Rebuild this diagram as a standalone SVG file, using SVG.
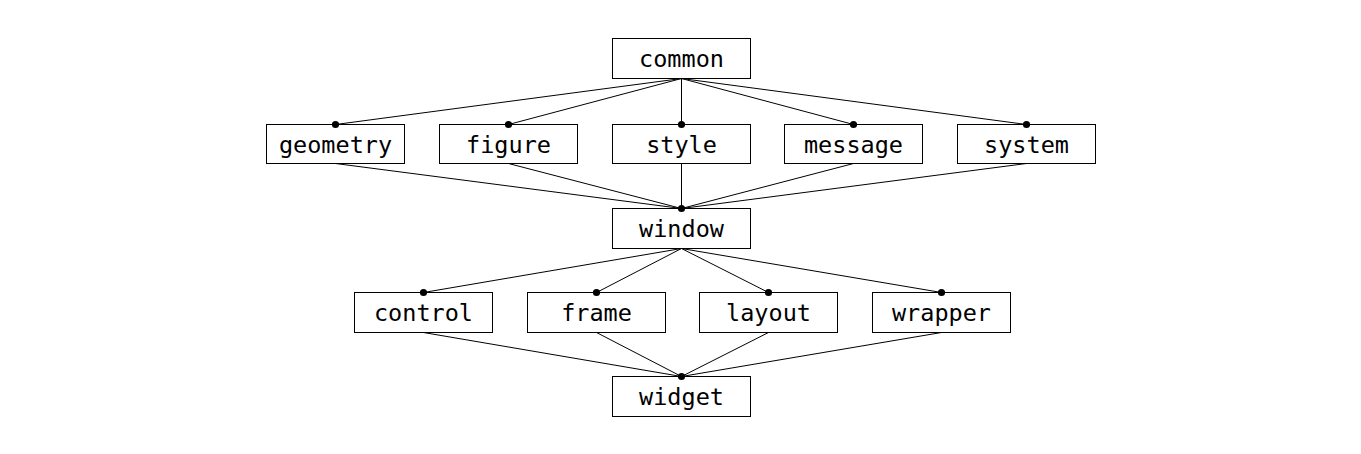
<svg xmlns="http://www.w3.org/2000/svg" width="1361" height="454" viewBox="0 0 1361 454">
<style>
.box{fill:#fff;stroke:#000;stroke-width:1}
.lbl{font-family:"DejaVu Sans Mono",monospace;font-size:23.5px;fill:#000;text-anchor:middle}
.edge{stroke:#000;stroke-width:1;fill:none}
.dot{fill:#000}
</style>
<rect width="1361" height="454" fill="#fff"/>
<g id="connectors">
<path class="edge" d="M681.5,78.5L335.5,124.5M681.5,78.5L508.5,124.5M681.5,78.5L681.5,124.5M681.5,78.5L853.5,124.5M681.5,78.5L1026.5,124.5"/>
<path class="edge" d="M335.5,163.5L681.5,208.5M508.5,163.5L681.5,208.5M681.5,163.5L681.5,208.5M853.5,163.5L681.5,208.5M1026.5,163.5L681.5,208.5"/>
<path class="edge" d="M681.5,248.5L423.5,292.5M681.5,248.5L596.5,292.5M681.5,248.5L768.5,292.5M681.5,248.5L941.5,292.5"/>
<path class="edge" d="M423.5,332.5L681.5,376.5M596.5,332.5L681.5,376.5M768.5,332.5L681.5,376.5M941.5,332.5L681.5,376.5"/>
</g>
<g id="common"><rect class="box" x="612.5" y="38.5" width="138" height="40"/><text class="lbl" x="681.5" y="67">common</text></g>
<g id="geometry"><rect class="box" x="266.5" y="124.5" width="138" height="39"/><text class="lbl" x="335.5" y="153">geometry</text><circle class="dot" cx="335.5" cy="124.5" r="3.6"/></g>
<g id="figure"><rect class="box" x="439.5" y="124.5" width="138" height="39"/><text class="lbl" x="508.5" y="153">figure</text><circle class="dot" cx="508.5" cy="124.5" r="3.6"/></g>
<g id="style"><rect class="box" x="612.5" y="124.5" width="138" height="39"/><text class="lbl" x="681.5" y="153">style</text><circle class="dot" cx="681.5" cy="124.5" r="3.6"/></g>
<g id="message"><rect class="box" x="784.5" y="124.5" width="138" height="39"/><text class="lbl" x="853.5" y="153">message</text><circle class="dot" cx="853.5" cy="124.5" r="3.6"/></g>
<g id="system"><rect class="box" x="957.5" y="124.5" width="138" height="39"/><text class="lbl" x="1026.5" y="153">system</text><circle class="dot" cx="1026.5" cy="124.5" r="3.6"/></g>
<g id="window"><rect class="box" x="612.5" y="208.5" width="138" height="40"/><text class="lbl" x="681.5" y="237">window</text><circle class="dot" cx="681.5" cy="208.5" r="3.6"/></g>
<g id="control"><rect class="box" x="354.5" y="292.5" width="138" height="40"/><text class="lbl" x="423.5" y="321">control</text><circle class="dot" cx="423.5" cy="292.5" r="3.6"/></g>
<g id="frame"><rect class="box" x="527.5" y="292.5" width="138" height="40"/><text class="lbl" x="596.5" y="321">frame</text><circle class="dot" cx="596.5" cy="292.5" r="3.6"/></g>
<g id="layout"><rect class="box" x="699.5" y="292.5" width="138" height="40"/><text class="lbl" x="768.5" y="321">layout</text><circle class="dot" cx="768.5" cy="292.5" r="3.6"/></g>
<g id="wrapper"><rect class="box" x="872.5" y="292.5" width="138" height="40"/><text class="lbl" x="941.5" y="321">wrapper</text><circle class="dot" cx="941.5" cy="292.5" r="3.6"/></g>
<g id="widget"><rect class="box" x="612.5" y="376.5" width="138" height="40"/><text class="lbl" x="681.5" y="405">widget</text><circle class="dot" cx="681.5" cy="376.5" r="3.6"/></g>
</svg>
